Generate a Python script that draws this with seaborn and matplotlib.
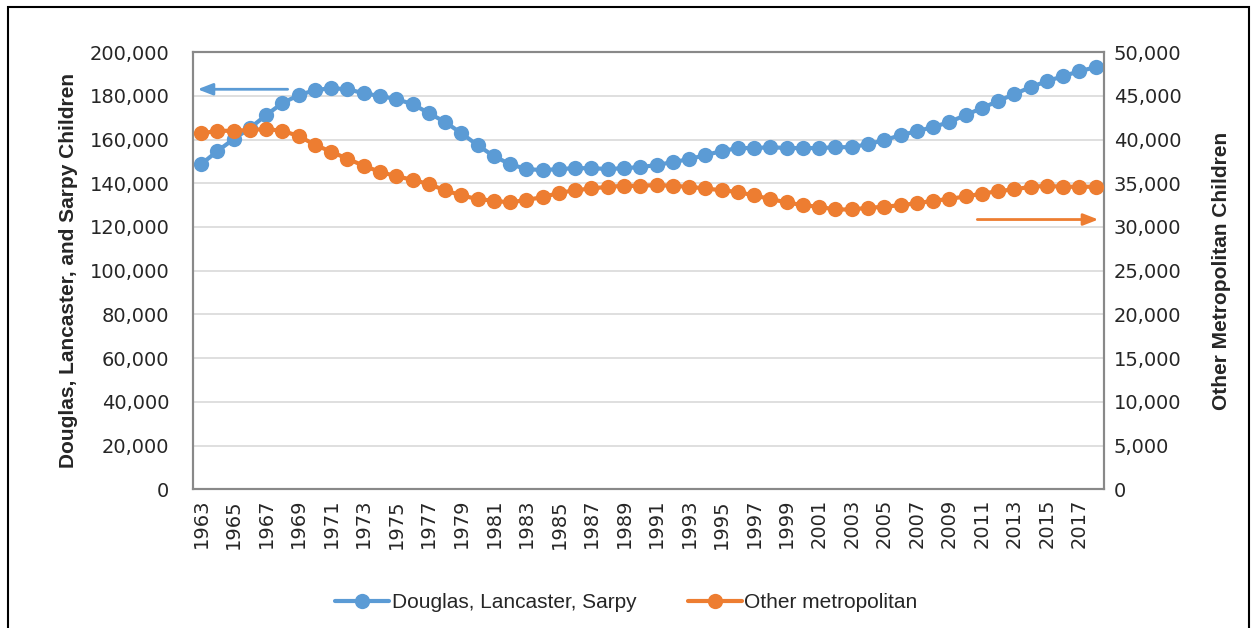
import numpy as np
import pandas as pd
import matplotlib
matplotlib.use("Agg")
import matplotlib.pyplot as plt
import seaborn as sns
from matplotlib.ticker import FuncFormatter
from matplotlib.lines import Line2D
from matplotlib.patches import Rectangle

# data
years = list(range(1963, 2019))
douglas = [148.7, 154.7, 160.2, 165.2, 171.2, 176.7, 180.3, 182.6, 183.5, 183.0,
           181.2, 179.9, 178.5, 176.2, 172.1, 168.0, 162.9, 157.4, 152.4, 148.7,
           146.5, 146.0, 146.5, 146.9, 146.9, 146.5, 146.9, 147.4, 148.3, 149.7,
           151.0, 152.9, 154.7, 156.1, 156.1, 156.5, 156.1, 156.1, 156.1, 156.5,
           156.5, 157.9, 159.7, 162.0, 163.8, 165.7, 168.0, 171.2, 174.4, 177.6,
           180.8, 184.0, 186.7, 189.0, 191.3, 193.1]
other_metro = [40.7, 41.0, 41.0, 41.1, 41.2, 41.0, 40.4, 39.4, 38.6, 37.8,
               37.0, 36.3, 35.8, 35.4, 34.9, 34.2, 33.6, 33.2, 33.0, 32.8,
               33.1, 33.4, 33.9, 34.2, 34.4, 34.6, 34.7, 34.7, 34.8, 34.7,
               34.6, 34.4, 34.2, 34.0, 33.6, 33.2, 32.8, 32.5, 32.3, 32.0,
               32.0, 32.2, 32.3, 32.5, 32.7, 33.0, 33.2, 33.5, 33.8, 34.1,
               34.3, 34.6, 34.7, 34.6, 34.6, 34.6]
tick_years = years[::2]

df = pd.DataFrame({
    "year": years,
    "douglas": np.array(douglas) * 1000,
    "other": np.array(other_metro) * 1000,
})

blue = "#5B9BD5"
orange = "#ED7D31"
grid_c = "#D9D9D9"
spine_c = "#898989"

sns.set_style("white")
plt.rcParams["font.family"] = ["DejaVu Sans"]

fig = plt.figure(figsize=(12.53, 6.28), dpi=100)
ax = fig.add_axes([0.154, 0.221, 0.727, 0.696])
ax2 = ax.twinx()

sns.lineplot(data=df, x="year", y="douglas", ax=ax, color=blue, lw=3,
             marker="o", markersize=11, markeredgewidth=0, zorder=3)
sns.lineplot(data=df, x="year", y="other", ax=ax2, color=orange, lw=3,
             marker="o", markersize=11, markeredgewidth=0, zorder=3)

ax.set_xlim(1962.5, 2018.5)
ax.set_ylim(0, 200000)
ax2.set_ylim(0, 50000)
ax.set_yticks(np.arange(0, 200001, 20000))
ax2.set_yticks(np.arange(0, 50001, 5000))
fmt = FuncFormatter(lambda v, p: f"{int(v):,}")
ax.yaxis.set_major_formatter(fmt)
ax2.yaxis.set_major_formatter(fmt)
ax.set_xticks(tick_years)
ax.set_xticklabels([str(y) for y in tick_years], rotation=90)

ax.grid(axis="y", color=grid_c, lw=1.2)
ax.set_axisbelow(True)
for a in (ax, ax2):
    for s in a.spines.values():
        s.set_color(spine_c)
        s.set_linewidth(1.5)
    a.tick_params(length=0, labelsize=14, pad=7)
ax.tick_params(axis="y", pad=17)

ax.set_xlabel("")
ax.set_ylabel("Douglas, Lancaster, and Sarpy Children", fontsize=15,
              fontweight="bold", family="Liberation Sans", labelpad=8)
ax2.set_ylabel("Other Metropolitan Children", fontsize=15,
               fontweight="bold", family="Liberation Sans", labelpad=22)

# arrows showing which axis each series belongs to
ax.annotate("", xy=(0.002, 0.915), xytext=(0.107, 0.915), xycoords="axes fraction",
            arrowprops=dict(arrowstyle="-|>,head_length=0.9,head_width=0.35",
                            color=blue, lw=2))
ax.annotate("", xy=(0.997, 0.617), xytext=(0.858, 0.617), xycoords="axes fraction",
            arrowprops=dict(arrowstyle="-|>,head_length=0.9,head_width=0.35",
                            color=orange, lw=2))

handles = [
    Line2D([], [], color=blue, lw=3, marker="o", markersize=11, markeredgewidth=0),
    Line2D([], [], color=orange, lw=3, marker="o", markersize=11, markeredgewidth=0),
]
fig.legend(handles, ["Douglas, Lancaster, Sarpy", "Other metropolitan"],
           loc="center", bbox_to_anchor=(0.5, 0.04), ncol=2, frameon=False,
           prop={"family": "Liberation Sans", "size": 15},
           handlelength=2.6, handletextpad=0.1, columnspacing=2.5)

# outer frame
fig.patches.append(Rectangle((0.006, -0.01), 0.991, 0.999, transform=fig.transFigure,
                             fill=False, edgecolor="black", lw=1.5))

fig.savefig("out.png", dpi=100)
